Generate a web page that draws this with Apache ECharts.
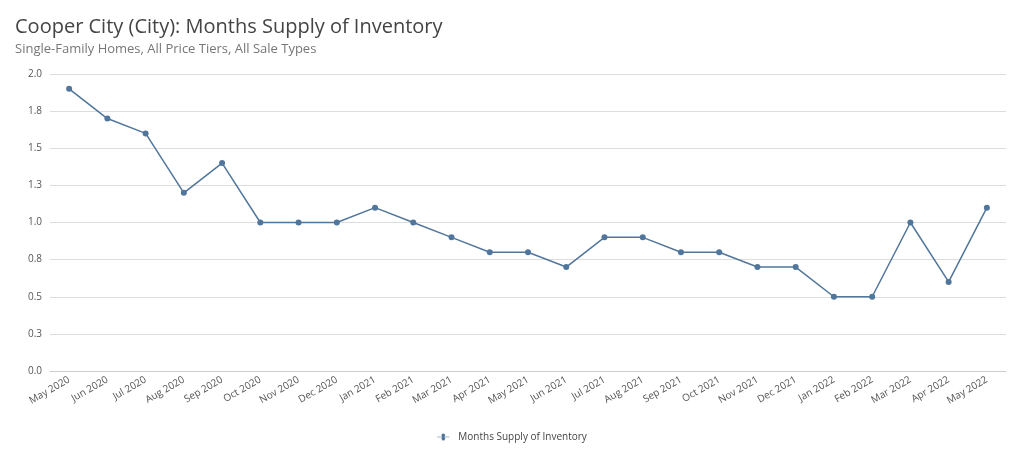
<!DOCTYPE html>
<html><head><meta charset="utf-8">
<script src="https://cdn.jsdelivr.net/npm/echarts@6/dist/echarts.min.js"></script>
<style>html,body{margin:0;padding:0;background:#fff}#c{width:1024px;height:469px}</style>
</head><body><div id="c"></div>
<script>
const categories=["May 2020","Jun 2020","Jul 2020","Aug 2020","Sep 2020","Oct 2020","Nov 2020","Dec 2020","Jan 2021","Feb 2021","Mar 2021","Apr 2021","May 2021","Jun 2021","Jul 2021","Aug 2021","Sep 2021","Oct 2021","Nov 2021","Dec 2021","Jan 2022","Feb 2022","Mar 2022","Apr 2022","May 2022"];
const values=[1.9,1.7,1.6,1.2,1.4,1.0,1.0,1.0,1.1,1.0,0.9,0.8,0.8,0.7,0.9,0.9,0.8,0.8,0.7,0.7,0.5,0.5,1.0,0.6,1.1];
const seriesName="Months Supply of Inventory";
const ch=echarts.init(document.getElementById('c'));
const F="'Open Sans', sans-serif";
ch.setOption({
 animation:false,
 title:{text:"Cooper City (City): Months Supply of Inventory",subtext:"Single-Family Homes, All Price Tiers, All Sale Types",left:10,top:12,itemGap:6,
  textStyle:{fontFamily:F,fontSize:20,fontWeight:'normal',color:'#444'},subtextStyle:{fontFamily:F,fontSize:13,color:'#777'}},
 legend:{bottom:22,icon:'circle',itemWidth:20,itemHeight:7,textStyle:{fontFamily:F,fontSize:10,color:'#444'},
  data:[{name:seriesName,icon:'path://M0,3h8a3,3 0 1,1 4,0h8v1h-8a3,3 0 1,1 -4,0h-8z'}]},
 grid:{left:50,right:18,top:74,bottom:98},
 xAxis:{type:'category',data:categories,boundaryGap:true,axisTick:{show:false},axisLine:{lineStyle:{color:'#ccc'}},
  axisLabel:{rotate:30,fontFamily:F,fontSize:10,color:'#555',interval:0}},
 yAxis:{type:'value',min:0,max:2,interval:0.25,axisLabel:{fontFamily:F,fontSize:10,color:'#555',formatter:v=>v.toFixed(1)},
  splitLine:{lineStyle:{color:'#ddd'}}},
 series:[{name:seriesName,type:'line',data:values,color:'#51769b',symbol:'circle',symbolSize:6,lineStyle:{width:1.5}}]
});
</script></body></html>
